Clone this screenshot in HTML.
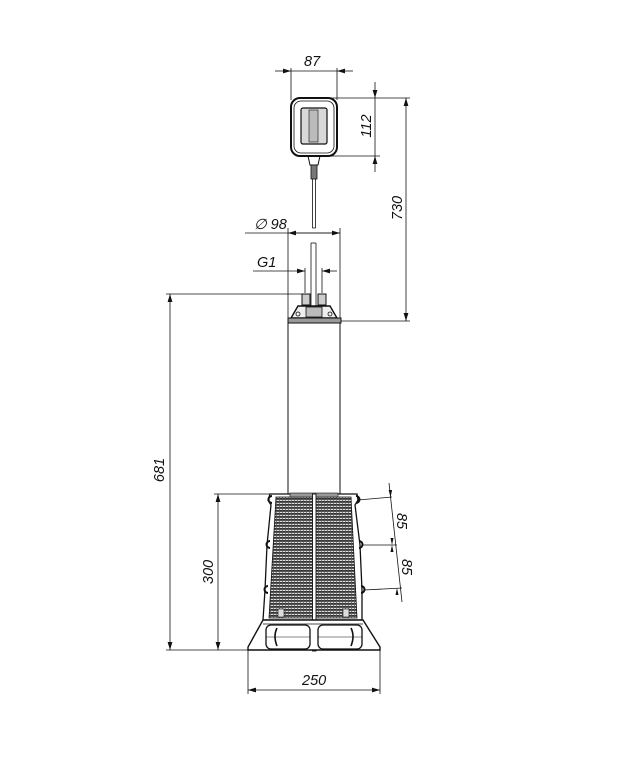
<!DOCTYPE html>
<html><head><meta charset="utf-8"><style>
html,body{margin:0;padding:0;background:#fff}
svg{display:block}
text{font-family:"Liberation Sans",sans-serif;font-style:italic;font-size:14.5px;fill:#111}
</style></head><body>
<svg width="619" height="768" viewBox="0 0 619 768" xmlns="http://www.w3.org/2000/svg">
<defs>
<pattern id="g" width="3" height="3" patternUnits="userSpaceOnUse">
<rect width="3" height="3" fill="#ddd"/>
<rect y="0" width="3" height="1.8" fill="#333"/>
<rect x="0" width="0.7" height="3" fill="#555"/>
</pattern>
<marker id="a" viewBox="0 0 10 6" refX="10" refY="3" markerWidth="8" markerHeight="5" orient="auto-start-reverse" markerUnits="userSpaceOnUse"><path d="M0,0 L10,3 L0,6 z" fill="#111"/></marker>
</defs>
<g stroke="#111" stroke-width="0.8" fill="none">
<line x1="291" y1="68" x2="291" y2="100"/>
<line x1="337" y1="68" x2="337" y2="100"/>
<line x1="275" y1="71" x2="291" y2="71" marker-end="url(#a)"/>
<line x1="353" y1="71" x2="337" y2="71" marker-end="url(#a)"/>
<line x1="291" y1="71" x2="337" y2="71"/>
<line x1="330" y1="98" x2="380" y2="98"/>
<line x1="330" y1="156" x2="380" y2="156"/>
<line x1="375" y1="82" x2="375" y2="98" marker-end="url(#a)"/>
<line x1="375" y1="172" x2="375" y2="156" marker-end="url(#a)"/>
<line x1="375" y1="98" x2="375" y2="156"/>
<line x1="380" y1="98" x2="410" y2="98"/>
<line x1="340" y1="321" x2="410" y2="321"/>
<line x1="406" y1="98" x2="406" y2="321" marker-start="url(#a)" marker-end="url(#a)"/>
<rect x="291" y="98" width="46" height="58" rx="9" stroke-width="2"/>
<rect x="294" y="101" width="40" height="52" rx="7" stroke-width="0.8"/>
<rect x="301" y="108" width="26" height="36" rx="2" fill="#d8d8d8" stroke-width="1.2"/>
<rect x="309" y="110" width="9" height="32" fill="#bbb" stroke-width="0.6"/>
<path d="M308,156 L310,165 L318,165 L320,156" stroke-width="1"/>
<rect x="311" y="165" width="6" height="14" fill="#777" stroke-width="0.8"/>
<line x1="312.5" y1="179" x2="312.5" y2="228"/>
<line x1="315.5" y1="179" x2="315.5" y2="228"/>
<line x1="312.5" y1="228" x2="315.5" y2="228"/>
<line x1="311" y1="243" x2="311" y2="310"/>
<line x1="316" y1="243" x2="316" y2="310"/>
<line x1="311" y1="243" x2="316" y2="243"/>
<line x1="288" y1="228" x2="288" y2="494"/>
<line x1="340" y1="228" x2="340" y2="494"/>
<line x1="245" y1="233" x2="340" y2="233" marker-end="url(#a)"/>
<line x1="340" y1="233" x2="288" y2="233" marker-end="url(#a)"/>
<line x1="305" y1="268" x2="305" y2="293"/>
<line x1="322" y1="268" x2="322" y2="293"/>
<line x1="253" y1="271" x2="305" y2="271" marker-end="url(#a)"/>
<line x1="337" y1="271" x2="322" y2="271" marker-end="url(#a)"/>
<line x1="166" y1="294" x2="303" y2="294"/>
<line x1="170" y1="294" x2="170" y2="650" marker-start="url(#a)" marker-end="url(#a)"/>
<line x1="166" y1="650" x2="250" y2="650"/>
<rect x="302" y="294" width="8" height="11" fill="#ccc" stroke-width="1"/>
<rect x="318" y="294" width="8" height="11" fill="#ccc" stroke-width="1"/>
<path d="M291,318 L298,306 L330,306 L337,318 Z" fill="#eee" stroke-width="1.4"/>
<circle cx="298" cy="314" r="2"/><circle cx="330" cy="314" r="2"/>
<rect x="306" y="307" width="16" height="10" fill="#bbb" stroke-width="0.8"/>
<rect x="288" y="318" width="53" height="5" fill="#999" stroke-width="1"/>
<rect x="288" y="323" width="52" height="171" stroke-width="1"/>
<path d="M270,494 L357,494 L358,500 L355,505 L360,545 L362,590 L362,620 L263,620 L265,590 L267,545 L271,505 L268,500 Z" fill="#fff" stroke-width="1.3"/>
<path d="M276,497 L351,497 L357,618 L269,618 Z" fill="url(#g)" stroke-width="0.8"/>
<rect x="290" y="493" width="48" height="4" fill="#999" stroke-width="0.6"/>
<rect x="312.5" y="494" width="3.5" height="157" fill="#fff" stroke-width="0.9"/>
<g stroke-width="2">
<path d="M272,496 a3.5,3.5 0 1 0 0,7"/><path d="M356,496 a3.5,3.5 0 1 1 0,7"/>
<path d="M270,541 a3.5,3.5 0 1 0 0,7"/><path d="M359,541 a3.5,3.5 0 1 1 0,7"/>
<path d="M268,586 a3.5,3.5 0 1 0 0,7"/><path d="M361,586 a3.5,3.5 0 1 1 0,7"/>
</g>
<rect x="278" y="609" width="6" height="8" fill="#ddd" stroke-width="0.6"/>
<rect x="343" y="609" width="6" height="8" fill="#ddd" stroke-width="0.6"/>
<path d="M263,620 L363,620 L380,647 L380,650 L248,650 L248,647 Z" fill="#fff" stroke-width="1.4"/>
<line x1="263" y1="624" x2="363" y2="624"/>
<rect x="266" y="625" width="44" height="24" rx="5" stroke-width="1.3"/>
<rect x="318" y="625" width="44" height="24" rx="5" stroke-width="1.3"/>
<path d="M277,628 q-4,8 0,18" stroke-width="1.6"/>
<path d="M351,628 q4,8 0,18" stroke-width="1.6"/>
<line x1="266" y1="637" x2="310" y2="637" stroke-width="0.5"/>
<line x1="318" y1="637" x2="362" y2="637" stroke-width="0.5"/>
<line x1="214" y1="494" x2="272" y2="494"/>
<line x1="218" y1="494" x2="218" y2="650" marker-start="url(#a)" marker-end="url(#a)"/>
<line x1="248" y1="650" x2="248" y2="694"/>
<line x1="380" y1="650" x2="380" y2="694"/>
<line x1="248" y1="690" x2="380" y2="690" marker-start="url(#a)" marker-end="url(#a)"/>
<line x1="358" y1="500" x2="392" y2="497"/>
<line x1="362" y1="545" x2="397" y2="545"/>
<line x1="364" y1="590" x2="402" y2="588"/>
<line x1="389" y1="483" x2="402" y2="602"/>
<path d="M390.6,497 l-2,-7 l3.5,0 z M392,545 l-1.5,-7 l3,0 z" fill="#111" stroke="none"/>
<path d="M392,545 l1.5,7 l-3,0 z M397,588 l1.5,7 l-3,0 z" fill="#111" stroke="none"/>
</g>
<text x="304" y="66">87</text>
<text transform="translate(371,126) rotate(-90)" text-anchor="middle">112</text>
<text transform="translate(402,208) rotate(-90)" text-anchor="middle">730</text>
<text x="254" y="229">∅ 98</text>
<text x="257" y="267">G1</text>
<text transform="translate(164,470) rotate(-90)" text-anchor="middle">681</text>
<text transform="translate(213,572) rotate(-90)" text-anchor="middle">300</text>
<text x="302" y="685">250</text>
<text transform="translate(397,521) rotate(90)" text-anchor="middle">85</text>
<text transform="translate(402,567) rotate(90)" text-anchor="middle">85</text>
</svg>
</body></html>
